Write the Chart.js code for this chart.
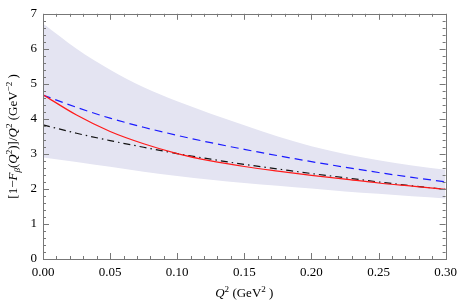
<!DOCTYPE html>
<html>
<head>
<meta charset="UTF-8">
<script src="https://cdn.jsdelivr.net/npm/chart.js"></script>
<style>
    body { margin: 0; background: #fff; }
    #wrap { width: 463px; height: 307px; }
</style>
</head>
<body>
<div id="wrap"><canvas id="c"></canvas></div>
<script>
// Q^2 sample points (GeV^2)
const q2 = [0, 0.025, 0.05, 0.075, 0.1, 0.125, 0.15, 0.175, 0.2, 0.225, 0.25, 0.275, 0.3];
// values
const bandUpper = [6.72, 6.00, 5.40, 4.90, 4.50, 4.15, 3.82, 3.50, 3.22, 3.00, 2.82, 2.67, 2.55];
const bandLower = [2.90, 2.77, 2.63, 2.49, 2.37, 2.26, 2.17, 2.09, 2.01, 1.93, 1.86, 1.79, 1.73];
const redLine   = [4.69, 4.11, 3.64, 3.29, 3.01, 2.80, 2.64, 2.51, 2.39, 2.28, 2.17, 2.08, 1.99];
const blueLine  = [4.68, 4.33, 4.02, 3.76, 3.53, 3.32, 3.13, 2.95, 2.78, 2.62, 2.47, 2.33, 2.20];
const blackLine = [3.83, 3.59, 3.38, 3.19, 3.01, 2.85, 2.70, 2.57, 2.44, 2.32, 2.20, 2.09, 1.99];
const xTicks = [0, 0.05, 0.10, 0.15, 0.20, 0.25, 0.30];
const yTicks = [0, 1, 2, 3, 4, 5, 6, 7];

const pts = arr => arr.map((v, i) => ({ x: q2[i], y: v }));
const SERIF = '"Liberation Serif", "Times New Roman", Times, serif';

function drawRich(ctx, parts, x, y, size) {
    // measure first
    let w = 0;
    parts.forEach(p => {
        const s = (p.sub || p.sup) ? size * 0.7 : size;
        ctx.font = (p.it ? 'italic ' : '') + s + 'px ' + SERIF;
        p.w = ctx.measureText(p.t).width;
        w += p.w;
    });
    let cx = x - w / 2;
    parts.forEach(p => {
        const s = (p.sub || p.sup) ? size * 0.7 : size;
        ctx.font = (p.it ? 'italic ' : '') + s + 'px ' + SERIF;
        let dy = 0;
        if (p.sup) dy = -size * 0.38;
        if (p.sub) dy = size * 0.22;
        ctx.fillText(p.t, cx, y + dy);
        cx += p.w;
    });
}

const framePlugin = {
    id: 'frame',
    afterDatasetsDraw(chart) {
        const { ctx, chartArea: a, scales: { x, y } } = chart;
        ctx.save();
        ctx.strokeStyle = '#777';
        ctx.lineWidth = 1;
        ctx.strokeRect(Math.round(a.left) + 0.5, Math.round(a.top) + 0.5,
            Math.round(a.right - a.left), Math.round(a.bottom - a.top));
        ctx.beginPath();
        for (let i = 0; i <= 30; i++) {
            const px = Math.round(x.getPixelForValue(i * 0.01)) + 0.5;
            const len = i % 5 === 0 ? 6 : 3;
            ctx.moveTo(px, a.bottom); ctx.lineTo(px, a.bottom - len);
            ctx.moveTo(px, a.top); ctx.lineTo(px, a.top + len);
        }
        for (let i = 0; i <= 35; i++) {
            const py = Math.round(y.getPixelForValue(i * 0.2)) + 0.5;
            const len = i % 5 === 0 ? 6 : 3;
            ctx.moveTo(a.left, py); ctx.lineTo(a.left + len, py);
            ctx.moveTo(a.right, py); ctx.lineTo(a.right - len, py);
        }
        ctx.stroke();
        ctx.restore();
    },
    afterDraw(chart) {
        const { ctx, chartArea: a } = chart;
        ctx.save();
        ctx.fillStyle = '#000';
        ctx.textBaseline = 'alphabetic';
        ctx.textAlign = 'left';
        drawRich(ctx, [
            { t: 'Q', it: true }, { t: '2', sup: true }, { t: ' (GeV' }, { t: '2', sup: true }, { t: ' )' }
        ], (a.left + a.right) / 2, 297, 13);
        ctx.translate(17, (a.top + a.bottom) / 2);
        ctx.rotate(-Math.PI / 2);
        drawRich(ctx, [
            { t: '[1\u2212' }, { t: 'F', it: true }, { t: '\u03B2', it: true, sub: true }, { t: '(' },
            { t: 'Q', it: true }, { t: '2', sup: true }, { t: ')]/' }, { t: 'Q', it: true },
            { t: '2', sup: true }, { t: ' (GeV' }, { t: '\u22122', sup: true }, { t: ' )' }
        ], 0, 0, 13);
        ctx.restore();
    }
};

new Chart(document.getElementById('c'), {
    type: 'line',
    data: {
        datasets: [
            { data: pts(redLine), borderColor: '#ff1a1a', borderWidth: 1.2,
              pointRadius: 0, fill: false, order: 0 },
            { data: pts(blackLine), borderColor: '#111', borderWidth: 1.2, borderDash: [7, 4, 1.5, 4],
              pointRadius: 0, fill: false, order: 1 },
            { data: pts(blueLine), borderColor: '#1a1aff', borderWidth: 1.2, borderDash: [8, 5],
              pointRadius: 0, fill: false, order: 2 },
            { data: pts(bandUpper), borderWidth: 0, pointRadius: 0, fill: '+1', order: 5,
              backgroundColor: 'rgb(228,228,242)', borderColor: 'rgba(0,0,0,0)' },
            { data: pts(bandLower), borderWidth: 0, pointRadius: 0, fill: false, order: 6,
              borderColor: 'rgba(0,0,0,0)' }
        ]
    },
    options: {
        responsive: true,
        maintainAspectRatio: false,
        animation: false,
        cubicInterpolationMode: 'monotone',
        layout: { padding: { top: 8, right: 12, left: 0, bottom: 0 } },
        plugins: { legend: { display: false }, tooltip: { enabled: false } },
        scales: {
            x: {
                type: 'linear', min: 0, max: 0.3,
                afterBuildTicks: s => { s.ticks = xTicks.map(v => ({ value: v })); },
                afterFit: s => { s.height = 48; },
                grid: { display: false, drawTicks: false }, border: { display: false },
                ticks: { callback: v => v.toFixed(2), maxRotation: 0, autoSkip: false, padding: 6,
                    color: '#000', font: { family: SERIF, size: 13 } }
            },
            y: {
                min: 0, max: 7,
                afterBuildTicks: s => { s.ticks = yTicks.map(v => ({ value: v })); },
                afterFit: s => { s.width = 43; },
                grid: { display: false, drawTicks: false }, border: { display: false },
                ticks: { padding: 6, color: '#000', font: { family: SERIF, size: 13 } }
            }
        }
    },
    plugins: [framePlugin]
});
</script>
</body>
</html>
